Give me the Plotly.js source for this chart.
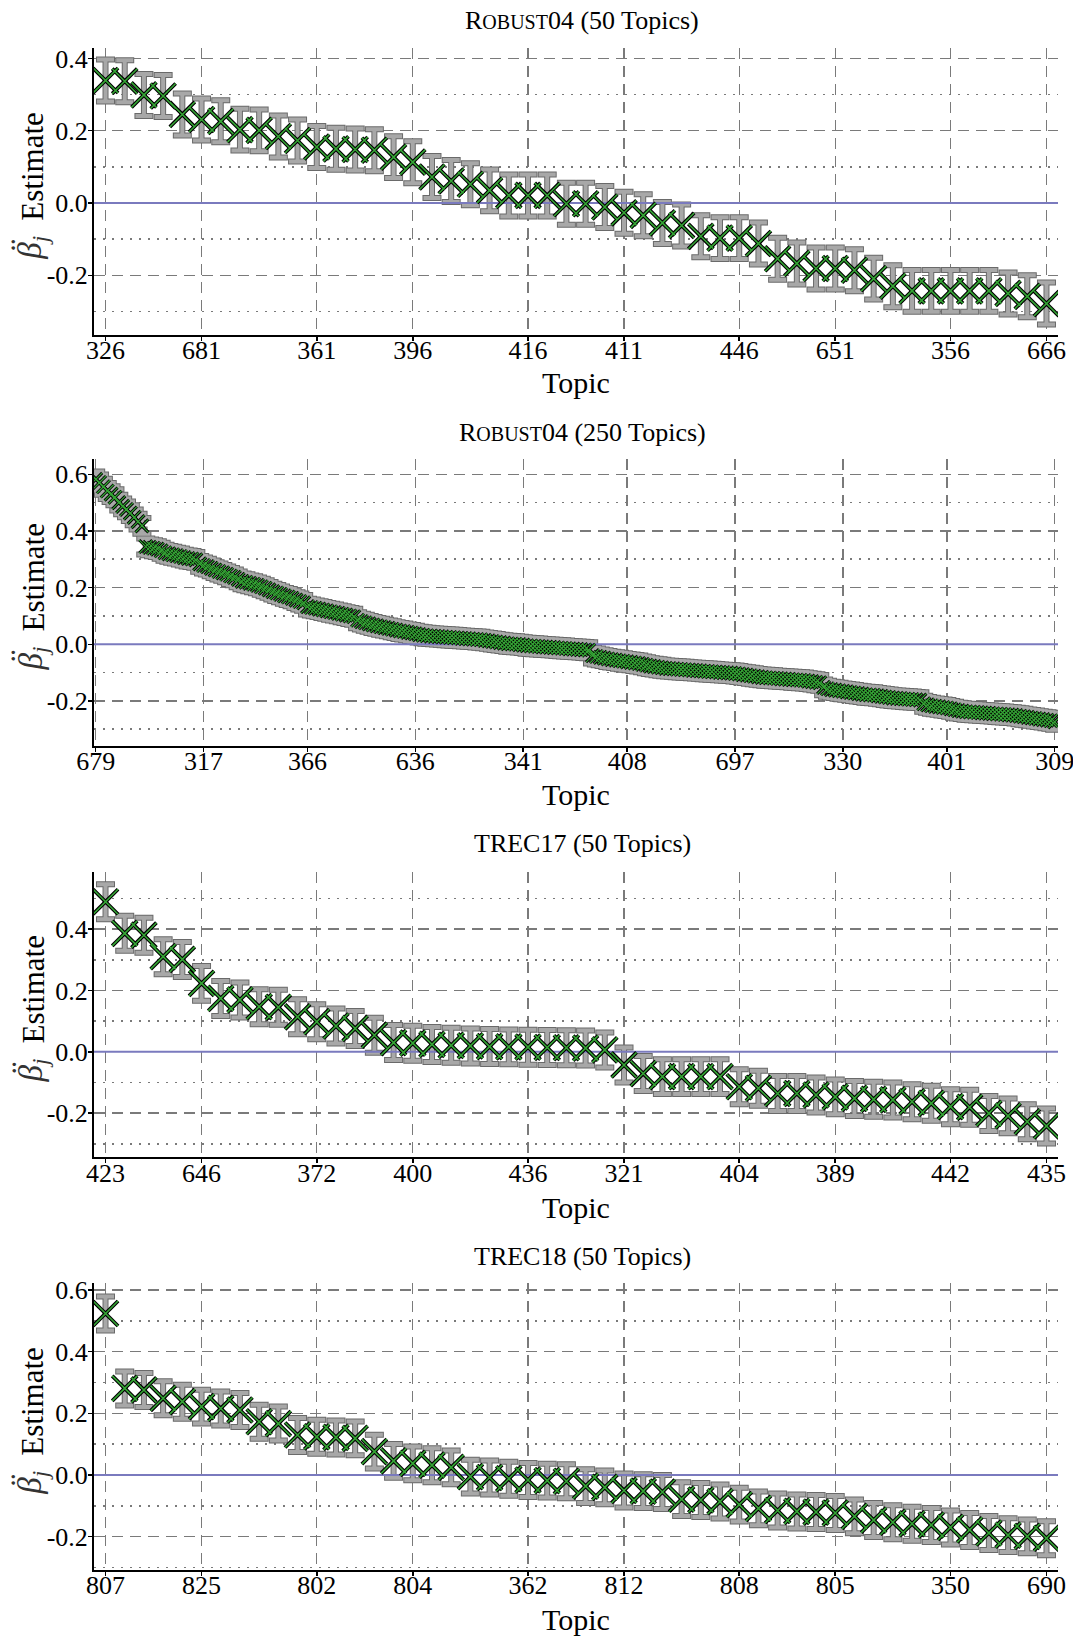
<!DOCTYPE html>
<html>
<head>
<meta charset="utf-8">
<script src="https://cdn.plot.ly/plotly-3.0.1.min.js"></script>
<style>html,body{margin:0;padding:0;background:#fff;}</style>
</head>
<body>
<div id="chart" style="width:1073px;height:1636px;"></div>
<script>
// ---------------- DATA ----------------
// Panel 1: Robust04 (50 topics), sorted estimates
const r04_50_values = [0.339, 0.337, 0.299, 0.296, 0.245, 0.231, 0.226, 0.203, 0.201, 0.184,
  0.173, 0.155, 0.150, 0.148, 0.146, 0.127, 0.113, 0.072, 0.061, 0.052,
  0.035, 0.021, 0.021, 0.021, -0.002, -0.002, -0.011, -0.027, -0.034, -0.055,
  -0.062, -0.092, -0.097, -0.097, -0.112, -0.154, -0.167, -0.181, -0.181, -0.186,
  -0.209, -0.230, -0.243, -0.243, -0.243, -0.243, -0.243, -0.250, -0.258, -0.278];
const r04_50_err = 0.058;
const r04_50_tickpos = [0, 5, 11, 16, 22, 27, 33, 38, 44, 49];
const r04_50_ticklabels = ['326', '681', '361', '396', '416', '411', '446', '651', '356', '666'];

// Panel 2: Robust04 (250 topics)
const r04_250_values = [
  0.582, 0.571, 0.556, 0.541, 0.530, 0.519, 0.500, 0.487, 0.476, 0.463,
  0.448, 0.433, 0.418, 0.345, 0.342, 0.339, 0.336, 0.330, 0.323, 0.319,
  0.316, 0.313, 0.310, 0.306, 0.303, 0.301, 0.298, 0.284, 0.278, 0.274,
  0.268, 0.262, 0.257, 0.252, 0.247, 0.241, 0.236, 0.229, 0.222, 0.219,
  0.215, 0.212, 0.208, 0.203, 0.198, 0.192, 0.186, 0.181, 0.176, 0.171,
  0.167, 0.162, 0.156, 0.151, 0.146, 0.133, 0.130, 0.127, 0.124, 0.121,
  0.118, 0.115, 0.112, 0.109, 0.106, 0.103, 0.100, 0.097, 0.085, 0.080,
  0.076, 0.072, 0.068, 0.065, 0.062, 0.059, 0.056, 0.053, 0.050, 0.047,
  0.045, 0.042, 0.040, 0.037, 0.034, 0.032, 0.030, 0.029, 0.028, 0.027,
  0.026, 0.025, 0.024, 0.023, 0.022, 0.021, 0.020, 0.019, 0.018, 0.017,
  0.016, 0.014, 0.012, 0.010, 0.008, 0.006, 0.004, 0.002, 0.001, 0.000,
  -0.001, -0.003, -0.005, -0.006, -0.007, -0.008, -0.009, -0.010, -0.011, -0.012,
  -0.013, -0.014, -0.015, -0.016, -0.017, -0.018, -0.019, -0.020, -0.021, -0.040,
  -0.043, -0.046, -0.049, -0.052, -0.054, -0.056, -0.058, -0.060, -0.062, -0.064,
  -0.066, -0.068, -0.071, -0.074, -0.077, -0.079, -0.081, -0.083, -0.085, -0.086,
  -0.087, -0.088, -0.089, -0.090, -0.091, -0.092, -0.093, -0.094, -0.095, -0.096,
  -0.097, -0.098, -0.099, -0.100, -0.101, -0.102, -0.103, -0.105, -0.107, -0.109,
  -0.111, -0.113, -0.115, -0.117, -0.118, -0.119, -0.120, -0.121, -0.122, -0.123,
  -0.124, -0.125, -0.126, -0.127, -0.128, -0.130, -0.132, -0.134, -0.136, -0.152,
  -0.157, -0.160, -0.162, -0.164, -0.166, -0.168, -0.170, -0.172, -0.174, -0.176,
  -0.178, -0.179, -0.180, -0.182, -0.184, -0.186, -0.188, -0.190, -0.191, -0.192,
  -0.193, -0.194, -0.195, -0.196, -0.197, -0.210, -0.214, -0.217, -0.219, -0.221,
  -0.223, -0.225, -0.228, -0.231, -0.234, -0.236, -0.238, -0.239, -0.240, -0.241,
  -0.242, -0.243, -0.244, -0.245, -0.246, -0.247, -0.248, -0.249, -0.250, -0.252,
  -0.254, -0.256, -0.258, -0.260, -0.262, -0.264, -0.266, -0.268, -0.270, -0.274];
const r04_250_err = 0.028;
const r04_250_tickpos = [0, 28, 55, 83, 111, 138, 166, 194, 221, 249];
const r04_250_ticklabels = ['679', '317', '366', '636', '341', '408', '697', '330', '401', '309'];

// Panel 3: TREC17 (50 topics)
const t17_values = [0.489, 0.386, 0.380, 0.310, 0.301, 0.223, 0.174, 0.169, 0.147, 0.145,
  0.114, 0.098, 0.084, 0.076, 0.054, 0.030, 0.028, 0.024, 0.021, 0.019,
  0.017, 0.016, 0.015, 0.014, 0.013, 0.012, 0.006, -0.043, -0.071, -0.081,
  -0.081, -0.081, -0.081, -0.114, -0.119, -0.136, -0.136, -0.141, -0.147, -0.152,
  -0.155, -0.157, -0.163, -0.168, -0.179, -0.181, -0.201, -0.209, -0.228, -0.242];
const t17_err = 0.057;
const t17_tickpos = [0, 5, 11, 16, 22, 27, 33, 38, 44, 49];
const t17_ticklabels = ['423', '646', '372', '400', '436', '321', '404', '389', '442', '435'];

// Panel 4: TREC18 (50 topics)
const t18_values = [0.524, 0.281, 0.276, 0.249, 0.238, 0.222, 0.216, 0.211, 0.173, 0.167,
  0.130, 0.124, 0.122, 0.119, 0.076, 0.046, 0.038, 0.032, 0.025, -0.005,
  -0.008, -0.012, -0.016, -0.018, -0.020, -0.036, -0.040, -0.050, -0.052, -0.055,
  -0.078, -0.081, -0.086, -0.096, -0.108, -0.115, -0.118, -0.120, -0.123, -0.134,
  -0.146, -0.153, -0.158, -0.162, -0.170, -0.178, -0.188, -0.195, -0.199, -0.205];
const t18_err = 0.055;
const t18_tickpos = [0, 5, 11, 16, 22, 27, 33, 38, 44, 49];
const t18_ticklabels = ['807', '825', '802', '804', '362', '812', '808', '805', '350', '690'];

const panelTitles = ['R<span style="font-size:20px">OBUST</span>04 (50 Topics)',
                     'R<span style="font-size:20px">OBUST</span>04 (250 Topics)',
                     'TREC17 (50 Topics)',
                     'TREC18 (50 Topics)'];
const yTitleWord = 'Estimate';
const yTitleSymbol = '<i>\u03B2</i><sub><i>j</i></sub>';
const yTitleAccent = '\u00A8';
const xTitle = 'Topic';
const yTickVals = [-0.2, 0, 0.2, 0.4, 0.6];
const yTickText = ['-0.2', '0.0', '0.2', '0.4', '0.6'];
const yMinorVals = [-0.3, -0.1, 0.1, 0.3, 0.5];

// ---------------- STYLE / LAYOUT ----------------
const FONT = '"Liberation Serif", "Times New Roman", serif';
const GRID = '#7a7a7a';
const W = 1073, H = 1636, ML = 94, MR = 15;
const panels = [
  {vals: r04_50_values, err: r04_50_err, tp: r04_50_tickpos, tl: r04_50_ticklabels,
   xr: [-0.6, 49.6], yr: [-0.365, 0.428], top: 48.3, bot: 335, titleY: 21, topicY: 382, msize: 25, lwo: 3.8, lwi: 1.6},
  {vals: r04_250_values, err: r04_250_err, tp: r04_250_tickpos, tl: r04_250_ticklabels,
   xr: [-0.44, 249.86], yr: [-0.358, 0.653], top: 459.3, bot: 745.7, titleY: 432, topicY: 794, msize: 13, lwo: 3.0, lwi: 1.2},
  {vals: t17_values, err: t17_err, tp: t17_tickpos, tl: t17_ticklabels,
   xr: [-0.6, 49.6], yr: [-0.344, 0.587], top: 871.7, bot: 1157.3, titleY: 843, topicY: 1207, msize: 25, lwo: 3.8, lwi: 1.6},
  {vals: t18_values, err: t18_err, tp: t18_tickpos, tl: t18_ticklabels,
   xr: [-0.6, 49.6], yr: [-0.308, 0.622], top: 1283.3, bot: 1570, titleY: 1256, topicY: 1619, msize: 25, lwo: 3.8, lwi: 1.6}
];

const traces = [];
const layout = {
  width: W, height: H,
  margin: {l: ML, r: MR, t: 0, b: 0},
  paper_bgcolor: '#ffffff', plot_bgcolor: '#ffffff',
  showlegend: false,
  font: {family: FONT, color: '#000', size: 26},
  annotations: []
};
const py = p => 1 - p / H;
const pxX = p => (p - ML) / (W - ML - MR);

panels.forEach((p, i) => {
  const n = i + 1;
  const xa = n === 1 ? 'x' : 'x' + n;
  const ya = n === 1 ? 'y' : 'y' + n;
  const xs = p.vals.map((_, k) => k);

  traces.push({type: 'scatter', mode: 'markers', x: xs, y: p.vals, xaxis: xa, yaxis: ya,
    marker: {size: 2, opacity: 0}, hoverinfo: 'skip',
    error_y: {type: 'constant', value: p.err, color: '#6a6a6a', thickness: 6, width: 9.5}});
  traces.push({type: 'scatter', mode: 'markers', x: xs, y: p.vals, xaxis: xa, yaxis: ya,
    marker: {size: 2, opacity: 0}, hoverinfo: 'skip',
    error_y: {type: 'constant', value: p.err, color: '#a8a8a8', thickness: 4, width: 8.5}});
  traces.push({type: 'scatter', mode: 'lines', x: p.xr, y: [0, 0], xaxis: xa, yaxis: ya,
    line: {color: 'rgb(122,122,190)', width: 2}, hoverinfo: 'skip'});
  traces.push({type: 'scatter', mode: 'markers', x: xs, y: p.vals, xaxis: xa, yaxis: ya,
    marker: {symbol: 'x-thin', size: p.msize, color: '#000', line: {color: '#000', width: p.lwo}}});
  traces.push({type: 'scatter', mode: 'markers', x: xs, y: p.vals, xaxis: xa, yaxis: ya,
    marker: {symbol: 'x-thin', size: p.msize, color: '#35a535', line: {color: '#35a535', width: p.lwi}}});

  const xkey = n === 1 ? 'xaxis' : 'xaxis' + n;
  const ykey = n === 1 ? 'yaxis' : 'yaxis' + n;
  layout[xkey] = {
    domain: [0, 1], anchor: ya, range: p.xr,
    tickmode: 'array', tickvals: p.tp, ticktext: p.tl,
    showgrid: true, gridcolor: GRID, gridwidth: 1.4, griddash: '11px,7px',
    zeroline: false, showline: true, linecolor: '#000', linewidth: 2,
    ticks: 'outside', ticklen: 4, tickwidth: 1.5, tickcolor: '#000',
    ticklabelstandoff: -13, ticklabeloverflow: 'allow',
    tickfont: {family: FONT, size: 26, color: '#000'}, automargin: false
  };
  layout[ykey] = {
    domain: [py(p.bot), py(p.top)], anchor: xa, range: p.yr,
    tickmode: 'array', tickvals: yTickVals, ticktext: yTickText,
    showgrid: true, gridcolor: GRID, gridwidth: 1.4, griddash: '11px,7px',
    minor: {tickmode: 'array', tickvals: yMinorVals, showgrid: true, gridcolor: GRID,
            gridwidth: 1.7, griddash: '2px,7px', ticks: ''},
    zeroline: false, showline: true, linecolor: '#000', linewidth: 2,
    ticks: 'outside', ticklen: 4, tickwidth: 1.5, tickcolor: '#000',
    ticklabelstandoff: -5, ticklabeloverflow: 'allow',
    tickfont: {family: FONT, size: 26, color: '#000'}, automargin: false
  };

  const yc = (p.top + p.bot) / 2;
  layout.annotations.push({xref: 'paper', yref: 'paper', x: pxX(582), y: py(p.titleY),
    xanchor: 'center', yanchor: 'middle', showarrow: false, text: panelTitles[i],
    font: {family: FONT, size: 26, color: '#000'}});
  layout.annotations.push({xref: 'paper', yref: 'paper', x: pxX(576), y: py(p.topicY),
    xanchor: 'center', yanchor: 'middle', showarrow: false, text: xTitle,
    font: {family: FONT, size: 30, color: '#000'}});
  // y-axis title: "Estimate", the symbol beta_j, and the double-dot accent over beta
  layout.annotations.push({xref: 'paper', yref: 'paper', x: pxX(33), y: py(yc - 25),
    xanchor: 'center', yanchor: 'middle', showarrow: false, textangle: -90,
    text: yTitleWord, font: {family: FONT, size: 31, color: '#000'}});
  layout.annotations.push({xref: 'paper', yref: 'paper', x: pxX(33), y: py(yc + 56),
    xanchor: 'center', yanchor: 'middle', showarrow: false, textangle: -90,
    text: yTitleSymbol, font: {family: FONT, size: 33, color: '#333'}});
  layout.annotations.push({xref: 'paper', yref: 'paper', x: pxX(22), y: py(yc + 53),
    xanchor: 'center', yanchor: 'middle', showarrow: false, textangle: -90,
    text: yTitleAccent, font: {family: FONT, size: 36, color: '#333'}});
});

Plotly.newPlot('chart', traces, layout, {staticPlot: true, displayModeBar: false});
</script>
</body>
</html>
